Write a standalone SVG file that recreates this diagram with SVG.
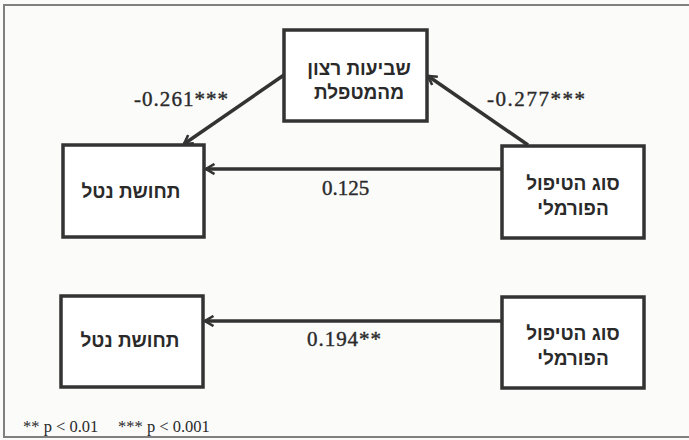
<svg xmlns="http://www.w3.org/2000/svg" width="689" height="440" viewBox="0 0 689 440">
<style>
.bg{fill:#fbfbfa}
.frame{fill:none;stroke:#808080;stroke-width:2}
.box{fill:#ffffff;stroke:#333;stroke-width:3.5}
.he{font-family:"Liberation Sans","DejaVu Sans",sans-serif;font-weight:bold;font-size:19px;fill:#2a2a2a;text-anchor:middle}
.num{font-family:"Liberation Serif","DejaVu Serif",serif;font-size:21px;fill:#2a2a2a;stroke:#2a2a2a;stroke-width:0.4}
.leg{font-family:"Liberation Serif","DejaVu Serif",serif;font-size:16.5px;fill:#2a2a2a}
.conn{stroke:#333;stroke-width:3.5;fill:none;marker-end:url(#arr)}
</style>
<defs>
<marker id="arr" viewBox="0 0 12 12" refX="10.5" refY="6" markerWidth="12" markerHeight="12" markerUnits="userSpaceOnUse" orient="auto">
<polyline points="2,1 10.5,6 2,11" fill="none" stroke="#333" stroke-width="2.6"/>
</marker>
</defs>
<rect class="bg" x="0" y="0" width="689" height="440"/>
<rect class="frame" x="4" y="5" width="690" height="432"/>
<g id="connectors">
<line class="conn" x1="284" y1="75" x2="184" y2="144"/>
<line class="conn" x1="528" y1="145" x2="428" y2="76"/>
<line class="conn" x1="502" y1="169" x2="206" y2="169"/>
<line class="conn" x1="502" y1="321" x2="205" y2="321"/>
</g>
<g id="satisfaction">
<rect class="box" x="284" y="30" width="143" height="91"/>
<text class="he" x="359" y="75" direction="rtl">שביעות רצון</text>
<text class="he" x="359" y="99" direction="rtl">מהמטפלת</text>
</g>
<g id="burden1">
<rect class="box" x="63" y="145" width="141" height="92"/>
<text class="he" x="131" y="198" direction="rtl">תחושת נטל</text>
</g>
<g id="treatment1">
<rect class="box" x="502" y="146" width="142" height="92"/>
<text class="he" x="573" y="190" direction="rtl">סוג הטיפול</text>
<text class="he" x="573" y="215" direction="rtl">הפורמלי</text>
</g>
<g id="burden2">
<rect class="box" x="61" y="296" width="142" height="91"/>
<text class="he" x="130" y="347" direction="rtl">תחושת נטל</text>
</g>
<g id="treatment2">
<rect class="box" x="502" y="297" width="142" height="91"/>
<text class="he" x="573" y="340" direction="rtl">סוג הטיפול</text>
<text class="he" x="573" y="365" direction="rtl">הפורמלי</text>
</g>
<g id="labels">
<text class="num" x="134" y="106" textLength="94" lengthAdjust="spacing">-0.261***</text>
<text class="num" x="487" y="106" textLength="98" lengthAdjust="spacing">-0.277***</text>
<text class="num" x="322" y="195">0.125</text>
<text class="num" x="307" y="346" textLength="74" lengthAdjust="spacing">0.194**</text>
<text class="leg" x="23" y="432">** p &lt; 0.01</text>
<text class="leg" x="118" y="432">*** p &lt; 0.001</text>
</g>
</svg>
